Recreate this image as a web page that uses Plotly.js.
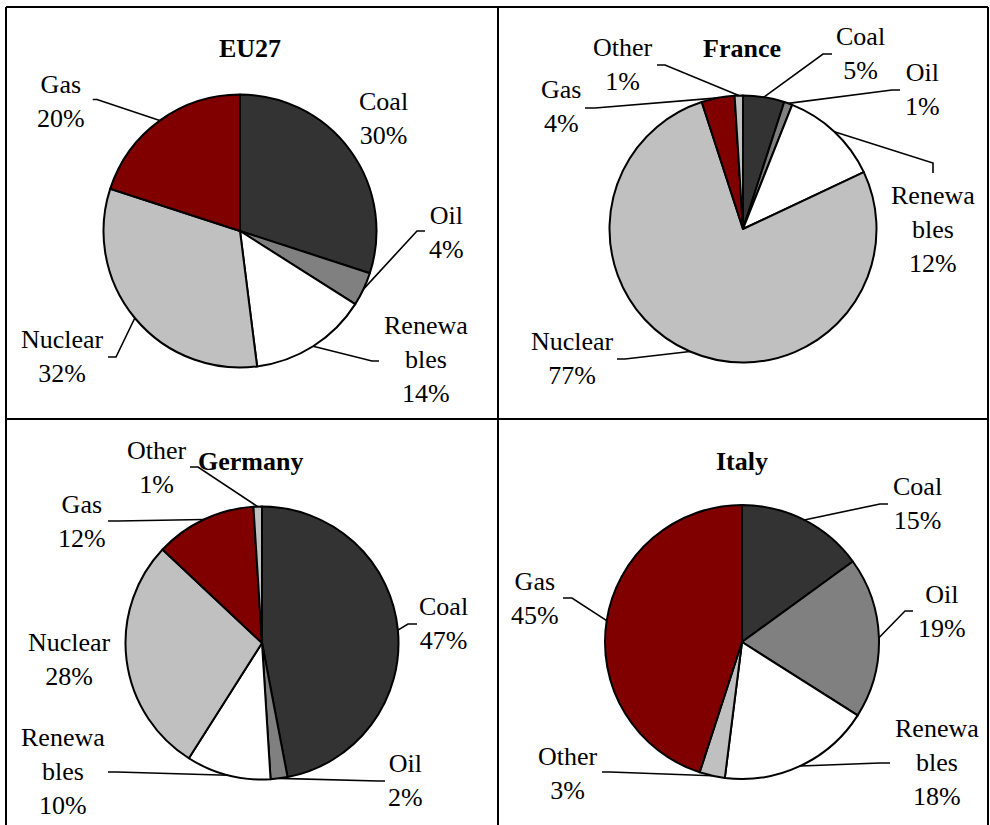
<!DOCTYPE html>
<html>
<head>
<meta charset="utf-8">
<script src="https://cdn.plot.ly/plotly-3.0.1.min.js"></script>
<style>html,body{margin:0;padding:0;background:#fff;}#chart{width:990px;height:825px;}</style>
</head>
<body>
<div id="chart"></div>
<script>
// ---------- DATA ----------
const chartTitles = ["EU27", "France", "Germany", "Italy"];

const eu27Labels = ["Coal", "Oil", "Renewables", "Nuclear", "Gas"];
const eu27Values = [30, 4, 14, 32, 20];

const franceLabels = ["Coal", "Oil", "Renewables", "Nuclear", "Gas", "Other"];
const franceValues = [5, 1, 12, 77, 4, 1];

const germanyLabels = ["Coal", "Oil", "Renewables", "Nuclear", "Gas", "Other"];
const germanyValues = [47, 2, 10, 28, 12, 1];

const italyLabels = ["Coal", "Oil", "Renewables", "Other", "Gas"];
const italyValues = [15, 19, 18, 3, 45];

// ---------- STYLE / LAYOUT ----------
const W = 990, H = 825;
const FONT = "Liberation Serif";
const FS = 26;

const colorMap = {
  Coal: "#333333", Oil: "#808080", Renewables: "#ffffff",
  Nuclear: "#c0c0c0", Gas: "#800000", Other: "#c0c0c0"
};
const displayName = {Renewables: "Renewa<br>bles"};

// pie placement in pixels (center, radius)
const pieGeom = [
  {cx: 240, cy: 231, r: 136.5},
  {cx: 743, cy: 229, r: 133.5},
  {cx: 262, cy: 643, r: 136.5},
  {cx: 742, cy: 642, r: 137}
];
const titlePos = [[250, 48], [742, 48.5], [250, 461], [742, 461]];

// label positions [x, y] and leader anchors [sx, sy, ex, ey] (or null), per slice order
const labelPos = [
  [[383, 118.5], [446, 232], [426, 360], [62, 356], [61, 101]],
  [[860, 54], [922, 89.5], [933, 229], [572, 358], [561, 107], [623, 65]],
  [[443, 623.5], [405, 780], [63, 771.5], [69, 659], [82, 521], [157, 467]],
  [[917, 503.5], [942, 611.5], [937, 762], [568, 773], [535, 598]]
];
const leaderPos = [
  [null, [425, 231, 417, 231], [379, 361, 372, 361], [108, 357, 116, 357], [92.7, 99.5, 97, 99.5]],
  [[832, 54, 823, 54], [900, 90, 892, 90], [933, 173, 933, 163], [617, 359, 625, 359], [585, 108, 595, 108], [657, 65, 665, 65]],
  [[417, 624, 408, 624], [385, 781, 378, 781], [108, 772, 117, 772], null, [108, 521, 118, 521], [190, 467, 198, 467]],
  [[888, 504, 880, 504], [913, 611, 905, 611], [890, 763, 880, 763], [602, 772, 610, 772], [563, 598, 572, 598]]
];

const px = x => x / W;
const py = y => 1 - y / H;

const series = [
  [eu27Labels, eu27Values],
  [franceLabels, franceValues],
  [germanyLabels, germanyValues],
  [italyLabels, italyValues]
];

const traces = [];
const annotations = [];
const shapes = [];

series.forEach(([labels, values], i) => {
  const g = pieGeom[i];
  traces.push({
    type: "pie",
    labels: labels,
    values: values,
    sort: false,
    direction: "clockwise",
    rotation: 0,
    textinfo: "none",
    hoverinfo: "label+percent",
    marker: {colors: labels.map(l => colorMap[l]), line: {color: "#000000", width: 2}},
    domain: {x: [px(g.cx - g.r), px(g.cx + g.r)], y: [py(g.cy + g.r), py(g.cy - g.r)]},
    showlegend: false
  });

  annotations.push({
    text: "<b>" + chartTitles[i] + "</b>",
    xref: "paper", yref: "paper", x: px(titlePos[i][0]), y: py(titlePos[i][1]),
    xanchor: "center", yanchor: "middle", showarrow: false,
    font: {family: FONT, size: FS, color: "#000"}
  });

  const total = values.reduce((a, b) => a + b, 0);
  let cum = 0;
  values.forEach((v, k) => {
    const f = (cum + v / 2) / total;
    cum += v;
    const th = 2 * Math.PI * f;
    const ex = g.cx + g.r * Math.sin(th);
    const ey = g.cy - g.r * Math.cos(th);
    const pct = Math.round(v / total * 100);
    const name = displayName[labels[k]] || labels[k];
    const lp = labelPos[i][k];
    annotations.push({
      text: name + "<br>" + pct + "%",
      xref: "paper", yref: "paper", x: px(lp[0]), y: py(lp[1]),
      xanchor: "center", yanchor: "middle", showarrow: false, align: "center",
      font: {family: FONT, size: FS, color: "#000"}
    });
    const ld = leaderPos[i][k];
    if (ld) {
      shapes.push({
        type: "path", xref: "paper", yref: "paper",
        path: "M " + px(ld[0]) + " " + py(ld[1]) + " L " + px(ld[2]) + " " + py(ld[3]) +
              " L " + px(ex) + " " + py(ey),
        line: {color: "#000", width: 1.6}
      });
    }
  });
});

// grid borders
const borderLines = [
  [6, 7, 988, 7], [6, 7, 6, 825], [988, 7, 988, 825],
  [498, 7, 498, 825], [6, 419, 988, 419]
];
borderLines.forEach(b => shapes.push({
  type: "line", xref: "paper", yref: "paper",
  x0: px(b[0]), y0: py(b[1]), x1: px(b[2]), y1: py(b[3]),
  line: {color: "#000", width: 2}
}));

const layout = {
  width: W, height: H,
  margin: {l: 0, r: 0, t: 0, b: 0},
  paper_bgcolor: "#ffffff",
  plot_bgcolor: "#ffffff",
  showlegend: false,
  annotations: annotations,
  shapes: shapes,
  font: {family: FONT, size: FS, color: "#000"}
};

Plotly.newPlot("chart", traces, layout, {displayModeBar: false, staticPlot: true});
</script>
</body>
</html>
